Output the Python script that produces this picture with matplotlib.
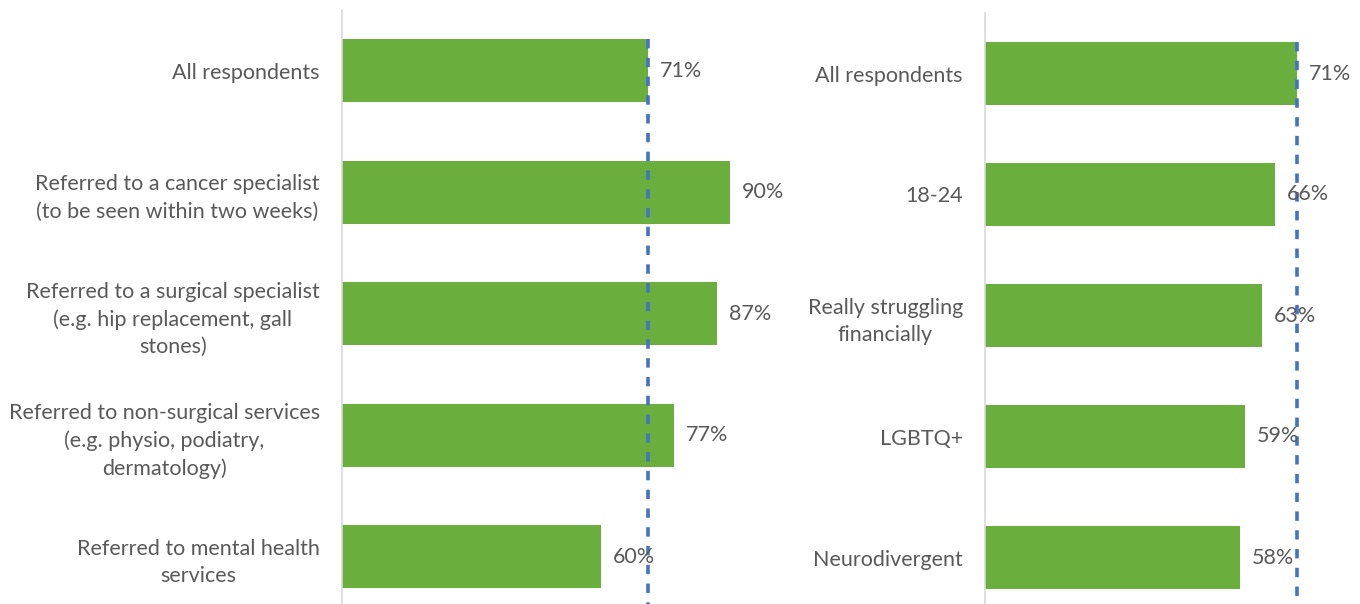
import matplotlib
matplotlib.use("Agg")
import matplotlib.pyplot as plt

# Data
left_labels = [
    "All respondents",
    "Referred to a cancer specialist\n(to be seen within two weeks)",
    "Referred to a surgical specialist\n(e.g. hip replacement, gall\nstones)",
    "Referred to non-surgical services\n(e.g. physio, podiatry,\ndermatology)",
    "Referred to mental health\nservices",
]
left_values = [0.71, 0.90, 0.87, 0.77, 0.60]

right_labels = [
    "All respondents",
    "18-24",
    "Really struggling\nfinancially",
    "LGBTQ+",
    "Neurodivergent",
]
right_values = [0.71, 0.66, 0.63, 0.59, 0.58]

average = 0.71

bar_color = "#6AAE3E"
line_color = "#4472C4"
text_color = "#595959"

plt.rcParams["font.family"] = ["Lato", "DejaVu Sans"]

W, H = 1360, 604
fig = plt.figure(figsize=(W / 100, H / 100), dpi=100)


def panel(rect, labels, values, xmax):
    ax = fig.add_axes(rect)
    y = list(range(len(values)))
    ax.barh(y, values, height=0.52, color=bar_color, zorder=2)
    ax.set_xlim(0, xmax)
    ax.set_ylim(len(values) - 0.5, -0.5)
    # dashed average line from top of first bar down
    ax.plot([average, average], [-0.26, len(values) - 0.5], color=line_color,
            linestyle=(0, (2.6, 2.6)), linewidth=2.6, zorder=3, clip_on=False)
    for yi, v in zip(y, values):
        ax.annotate(f"{v:.0%}", (v, yi), xytext=(8.5, 0), textcoords="offset points",
                    ha="left", va="center", fontsize=15.5, color=text_color)
    ax.set_yticks(y)
    ax.set_yticklabels(labels, fontsize=15.5, color=text_color, multialignment="center",
                       linespacing=1.45)
    ax.tick_params(axis="y", length=0, pad=16)
    ax.set_xticks([])
    for s in ["top", "right", "bottom"]:
        ax.spines[s].set_visible(False)
    ax.spines["left"].set_color("#D9D9D9")
    ax.spines["left"].set_linewidth(1.2)
    return ax


# left panel: 0 at x=342, 100% at ~773, categories from y=10 down 121.5 px each
panel([342 / W, (H - 617.5) / H, 431 / W, 607.5 / H], left_labels, left_values, 1.0)
# right panel: 0 at x=985, 4.4 px per percent
panel([985 / W, (H - 618) / H, 374 / W, 605 / H], right_labels, right_values, 0.85)

fig.savefig("out.png", dpi=100)
